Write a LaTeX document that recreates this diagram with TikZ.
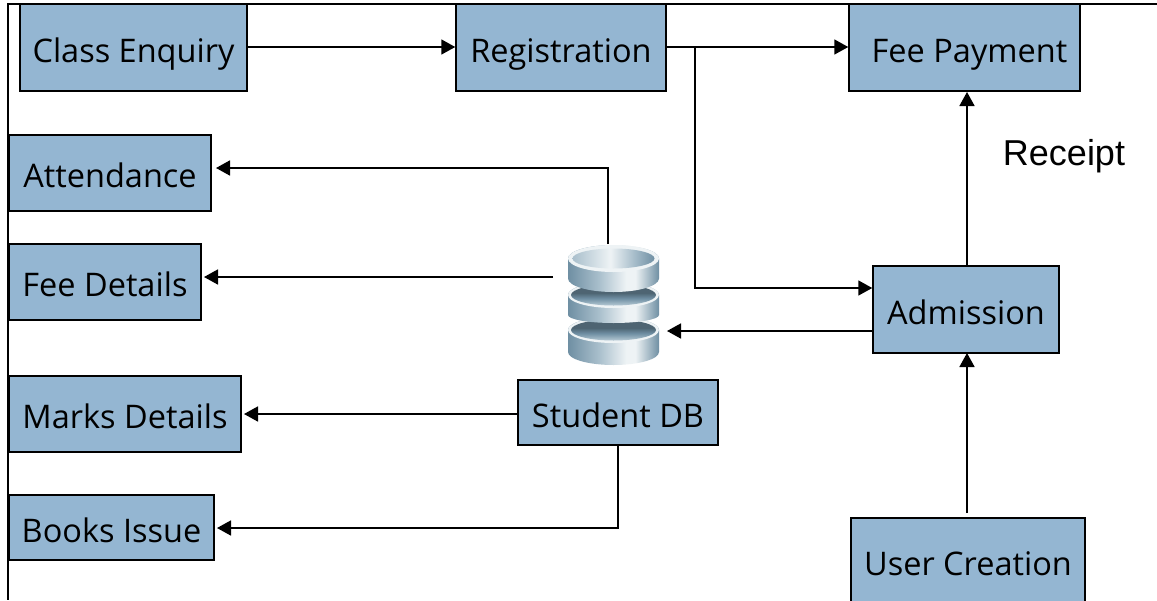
\documentclass[tikz,border=0pt]{standalone}
\usepackage{fontspec}
\setmainfont{Open Sans}
\newfontfamily\arialfont{Liberation Sans}
\usetikzlibrary{arrows.meta,calc}
\definecolor{boxblue}{HTML}{94B6D2}
\definecolor{dbdark}{HTML}{6F8FA3}
\definecolor{dbmid}{HTML}{A9BFCC}
\definecolor{dblight}{HTML}{EEF3F5}
\pgfdeclarehorizontalshading{dbbody}{100bp}{
 color(0bp)=(dbdark); color(25bp)=(dbdark); color(42bp)=(dbmid); color(57bp)=(dblight); color(62bp)=(dblight); color(75bp)=(dbdark); color(100bp)=(dbdark)}
\pgfdeclareverticalshading{dbwell}{100bp}{
 color(0bp)=(dbmid); color(28bp)=(dbmid); color(42bp)=(dbdark); color(55bp)=(dbdark!70!black); color(100bp)=(dbdark!70!black)}
\pgfdeclarehorizontalshading{dbtop}{100bp}{
 color(0bp)=(dbmid); color(25bp)=(dbmid); color(48bp)=(dblight); color(62bp)=(dbmid); color(75bp)=(dbdark); color(100bp)=(dbdark)}
\tikzset{
 x=1pt,y=-1pt,
 boxnode/.style={draw=black,line width=1.5pt,fill=boxblue,inner sep=0pt,font=\fontsize{32.5}{36}\selectfont,text=black,text height=30pt,text depth=1pt},
 flow/.style={draw=black,line width=1.7pt,-{Triangle[length=14pt,width=15pt]}},
 frameline/.style={draw=black,line width=2pt}
}
\newcommand{\boxat}[6]{\node[boxnode,minimum width=#4pt-#3pt,minimum height=#6pt-#5pt,anchor=center] (#1) at ({(#3+#4)/2},{(#5+#6)/2}) {#2};}
\newcommand{\dbdisc}[4]{% y of ellipse centre, thickness, ellipse y radius, bottom arc y radius
 \shade[shading=dbbody] (568,#1) -- (568,#1+#2) arc[start angle=180,end angle=0,x radius=45.5,y radius=#4] -- (659,#1) arc[start angle=0,end angle=-180,x radius=45.5,y radius=#3] -- cycle;
 \fill[dblight] (613.5,#1) ellipse[x radius=45.5,y radius=#3];
}
\begin{document}
\begin{tikzpicture}
\useasboundingbox (0,0) rectangle (1157,600);
\clip (0,0) rectangle (1157,600);
\fill[white] (0,0) rectangle (1157,600);
\coordinate (frameO) at (8,4);
\coordinate (frameR) at (1157,4);
\coordinate (frameB) at (8,600);
\draw[frameline] (frameR) -- (frameO) -- (frameB);
\boxat{enquiry}{Class Enquiry}{20}{247}{4}{91}
\boxat{reg}{Registration}{456}{666}{4}{91}
\boxat{fee}{\hspace*{10pt}Fee Payment}{849}{1080}{4}{91}
\boxat{att}{Attendance}{9}{211}{135}{211}
\boxat{feed}{Fee Details}{9}{201}{244}{320}
\boxat{marks}{Marks Details}{9}{241}{376}{452}
\boxat{books}{Books Issue}{9}{214}{495}{560}
\boxat{sdb}{Student DB}{518}{718}{380}{445}
\boxat{adm}{Admission}{873}{1059}{266}{353}
\node[boxnode,minimum width=234pt,minimum height=123pt,anchor=north west] (user) at (850,517) {};
\node[font=\fontsize{32.5}{36}\selectfont,text=black,anchor=base,inner sep=0pt] (userlabel) at (968,575) {User Creation};
\node[font=\arialfont\fontsize{36}{40}\selectfont,text=black] (receipt) at (1064,156) {Receipt};
% database
\node[minimum width=91pt,minimum height=120pt,inner sep=0pt] (db) at (613.5,305) {};
\dbdisc{330}{22}{13}{13}
\shade[shading=dbwell] (613.5,330) ellipse[x radius=42.5,y radius=10.5];
\dbdisc{295}{20}{13}{8}
\shade[shading=dbwell] (613.5,295) ellipse[x radius=42.5,y radius=10.5];
\dbdisc{258.5}{20}{13.5}{13.5}
\shade[shading=dbtop] (613.5,258.5) ellipse[x radius=41,y radius=10];
% connectors
\coordinate (enqR) at (enquiry.east|-0,47);
\coordinate (regL) at (reg.west|-0,47);
\coordinate (regR) at (reg.east|-0,47);
\coordinate (feeL) at (fee.west|-0,47);
\draw[flow] (enqR) -- (regL);
\draw[flow] (regR) -- (feeL);
\coordinate (bend1) at (695,47);
\coordinate (bend2) at (695,288);
\coordinate (admL) at (adm.west|-0,288);
\draw[flow] (bend1) -- (bend2) -- (admL);
\coordinate (admLb) at (adm.west|-0,331);
\coordinate (dbR) at (667,331);
\draw[flow] (admLb) -- (dbR);
\coordinate (admT) at (967,266);
\coordinate (feeB) at (967,92);
\draw[flow] (admT) -- (feeB);
\coordinate (userT) at (967,513);
\coordinate (admB) at (967,353);
\draw[flow] (userT) -- (admB);
\coordinate (dbT) at (608,244);
\coordinate (dbTb) at (608,168);
\coordinate (attR) at (216,168);
\draw[flow] (dbT) -- (dbTb) -- (attR);
\coordinate (dbL) at (553,277);
\coordinate (fdR) at (204,277);
\draw[flow] (dbL) -- (fdR);
\coordinate (sdbL) at (sdb.west|-0,414);
\coordinate (mR) at (244,414);
\draw[flow] (sdbL) -- (mR);
\coordinate (sdbB) at (618,445);
\coordinate (sdbC) at (618,528);
\coordinate (bR) at (217,528);
\draw[flow] (sdbB) -- (sdbC) -- (bR);
\end{tikzpicture}
\end{document}
